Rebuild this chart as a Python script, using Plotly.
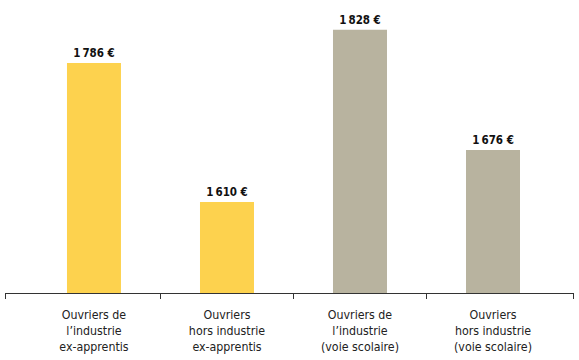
import plotly.graph_objects as go

categories = [
    "Ouvriers de<br>l\u2019industrie<br>ex-apprentis",
    "Ouvriers<br>hors industrie<br>ex-apprentis",
    "Ouvriers de<br>l\u2019industrie<br>(voie scolaire)",
    "Ouvriers<br>hors industrie<br>(voie scolaire)",
]
values = [1786, 1610, 1828, 1676]
colors = ["#FDD24E", "#FDD24E", "#B8B39F", "#B8B39F"]

BASE = 1495
positions = list(range(len(categories)))
labels = [f"{v:,}".replace(",", "\u2009") + " \u20ac" for v in values]

font_family = "Liberation Sans Narrow, DejaVu Sans Condensed, Arial Narrow, sans-serif"

fig = go.Figure(
    go.Bar(
        x=positions,
        y=[v - BASE for v in values],
        base=BASE,
        width=0.406,
        marker=dict(color=colors, line=dict(width=0)),
        text=labels,
        textposition="outside",
        textfont=dict(family=font_family, size=11.5, color="#111111", weight="bold"),
        cliponaxis=False,
        hoverinfo="skip",
    )
)

fig.update_layout(
    width=579,
    height=360,
    margin=dict(l=5, r=5, t=10, b=67),
    paper_bgcolor="white",
    plot_bgcolor="white",
    showlegend=False,
    xaxis=dict(
        range=[-0.669, 3.609],
        tickmode="array",
        tickvals=positions,
        ticktext=categories,
        ticks="",
        showline=True,
        linecolor="#333333",
        linewidth=1,
        showgrid=False,
        zeroline=False,
        ticklabelstandoff=10,
        tickfont=dict(family=font_family, size=12.3, color="#222222"),
        minor=dict(
            tickmode="array",
            tickvals=[-0.665, 0.5, 1.5, 2.5, 3.605],
            ticks="outside",
            ticklen=5,
            tickwidth=1,
            tickcolor="#333333",
            showgrid=False,
        ),
    ),
    yaxis=dict(
        range=[BASE, 1853],
        visible=False,
        showgrid=False,
        zeroline=False,
    ),
)

fig.write_html(
    "out.html",
    config={"displayModeBar": False},
    post_script="document.body.style.margin='0';",
)
